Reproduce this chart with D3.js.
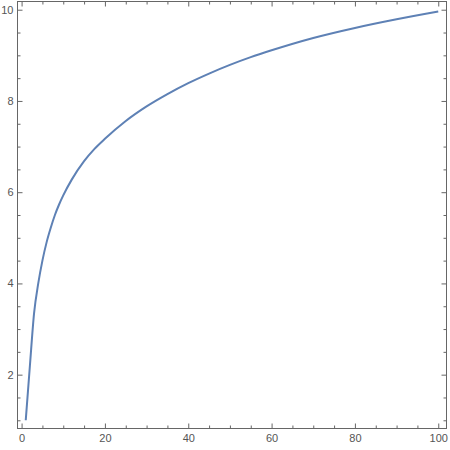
<!DOCTYPE html>
<html>
<head>
<meta charset="utf-8">
<script src="https://cdnjs.cloudflare.com/ajax/libs/d3/7.8.5/d3.min.js"></script>
<style>
  body { margin: 0; background: #fff; }
  #chart text { font-family: "Liberation Sans", Arial, sans-serif; font-size: 11px; fill: #555; }
</style>
</head>
<body>
<div id="chart"></div>
<script>
// values
var xs = [1, 2, 3, 4, 5, 6, 7, 8, 9, 10, 12, 15, 17.5, 20, 25, 30, 35, 40, 45, 50, 55, 60, 70, 80, 90, 100];
var ys = [1.0, 2.2, 3.35, 4.0, 4.5, 4.9, 5.22, 5.5, 5.73, 5.93, 6.27, 6.68, 6.95, 7.17, 7.56, 7.88, 8.15, 8.39, 8.6, 8.79, 8.96, 9.11, 9.38, 9.6, 9.79, 9.96];
var xTicks = [0, 20, 40, 60, 80, 100];
var yTicks = [2, 4, 6, 8, 10];

(function(){
    var width = 450;
    var height = 450;
    var left = 17.5, right = 446.5, top = 1.5, bottom = 428.5;

    var svg = d3.select("#chart")
        .append("svg")
        .attr("width", width)
        .attr("height", height);

    var x = d3.scaleLinear().domain([-0.98, 101.98]).range([left, right]);
    var y = d3.scaleLinear().domain([0.82, 10.18]).range([bottom, top]);

    var xMinor = d3.range(0, 101, 5).filter(function(d){ return xTicks.indexOf(d) < 0 });
    var yMinor = d3.range(1, 10.01, 0.5).filter(function(d){ return yTicks.indexOf(d) < 0 });

    function styleAxis(g){
        g.select(".domain").remove();
        g.selectAll("line").attr("stroke", "#666").attr("stroke-width", 1);
        g.selectAll("text").attr("fill", "#555").attr("font-size", 11);
    }

    // bottom
    svg.append("g").attr("transform", "translate(0," + bottom + ")")
        .call(d3.axisBottom(x).tickValues(xTicks).tickSize(-5).tickPadding(6))
        .call(styleAxis);
    svg.append("g").attr("transform", "translate(0," + bottom + ")")
        .call(d3.axisBottom(x).tickValues(xMinor).tickSize(-3).tickFormat(""))
        .call(styleAxis);
    // top
    svg.append("g").attr("transform", "translate(0," + top + ")")
        .call(d3.axisTop(x).tickValues(xTicks).tickSize(-5).tickFormat(""))
        .call(styleAxis);
    svg.append("g").attr("transform", "translate(0," + top + ")")
        .call(d3.axisTop(x).tickValues(xMinor).tickSize(-3).tickFormat(""))
        .call(styleAxis);
    // left
    svg.append("g").attr("transform", "translate(" + left + ",0)")
        .call(d3.axisLeft(y).tickValues(yTicks).tickSize(-5).tickPadding(4))
        .call(styleAxis);
    svg.append("g").attr("transform", "translate(" + left + ",0)")
        .call(d3.axisLeft(y).tickValues(yMinor).tickSize(-3).tickFormat(""))
        .call(styleAxis);
    // right
    svg.append("g").attr("transform", "translate(" + right + ",0)")
        .call(d3.axisRight(y).tickValues(yTicks).tickSize(-5).tickFormat(""))
        .call(styleAxis);
    svg.append("g").attr("transform", "translate(" + right + ",0)")
        .call(d3.axisRight(y).tickValues(yMinor).tickSize(-3).tickFormat(""))
        .call(styleAxis);

    // frame
    svg.append("rect")
        .attr("x", left).attr("y", top)
        .attr("width", right - left).attr("height", bottom - top)
        .attr("fill", "none")
        .attr("stroke", "#666")
        .attr("stroke-width", 1);

    var data = xs.map(function(d, i){ return [d, ys[i]] });

    var line = d3.line()
        .x(function(d){ return x(d[0]) })
        .y(function(d){ return y(d[1]) })
        .curve(d3.curveMonotoneX);

    svg.append("path")
        .datum(data)
        .attr("d", line)
        .attr("fill", "none")
        .attr("stroke", "#5e81b5")
        .attr("stroke-width", 2);
})();
</script>
</body>
</html>
